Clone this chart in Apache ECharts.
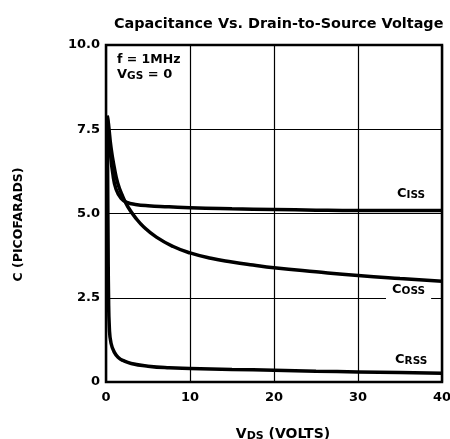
<!DOCTYPE html>
<html>
<head>
<meta charset="utf-8">
<script src="https://cdn.jsdelivr.net/npm/echarts@6/dist/echarts.min.js"></script>
<style>
  html, body { margin: 0; padding: 0; background: #fff; }
  #chart { width: 450px; height: 439px; }
</style>
</head>
<body>
<div id="chart"></div>
<script>
// capacitance curves
const cissVds = [0.15, 0.3, 0.5, 0.8, 1.2, 1.8, 2.5, 3.5, 5, 7.5, 10, 15, 20, 25, 30, 35, 40];
const cissC = [7.9, 7.4, 6.85, 6.2, 5.72, 5.45, 5.33, 5.27, 5.23, 5.2, 5.17, 5.14, 5.12, 5.1, 5.09, 5.09, 5.09];

const cossVds = [0.15, 0.3, 0.6, 1.0, 1.4, 2.0, 2.6, 3.5, 4.5, 6, 8, 10, 12.5, 15, 17.5, 20, 25, 30, 35, 40];
const cossC = [7.9, 7.65, 6.95, 6.35, 5.9, 5.5, 5.2, 4.88, 4.6, 4.3, 4.02, 3.83, 3.67, 3.56, 3.47, 3.39, 3.27, 3.16, 3.07, 2.99];

const crssVds = [0.15, 0.2, 0.25, 0.3, 0.4, 0.6, 1.0, 1.5, 2, 3, 5, 7.5, 10, 15, 20, 25, 30, 35, 40];
const crssC = [7.9, 6.0, 4.0, 2.6, 1.6, 1.15, 0.88, 0.72, 0.64, 0.55, 0.47, 0.42, 0.4, 0.37, 0.35, 0.32, 0.3, 0.28, 0.26];

const xTicks = [0, 10, 20, 30, 40];
const yTickLabels = ['0', '2.5', '5.0', '7.5', '10.0'];

function pairs(xs, ys) {
  return xs.map((x, i) => [x, ys[i]]);
}

const chart = echarts.init(document.getElementById('chart'), null, { renderer: 'canvas' });

const font = 'DejaVu Sans, sans-serif';

const curve = (name, xs, ys) => ({
  name: name,
  type: 'line',
  data: pairs(xs, ys),
  showSymbol: false,
  smooth: 0.5,
  lineStyle: { color: '#000', width: 3.5 },
  silent: true
});

// small-caps style label, e.g. C + ISS
const subRich = {
  b: { fontFamily: font, fontWeight: 'bold', fontSize: 13, fill: '#000' },
  s: { fontFamily: font, fontWeight: 'bold', fontSize: 10.5, fill: '#000', padding: [3, 0, 0, 0] }
};

const option = {
  backgroundColor: '#fff',
  animation: false,
  title: {
    text: 'Capacitance Vs. Drain-to-Source Voltage',
    left: 109,
    top: 12,
    textStyle: { fontFamily: font, fontWeight: 'bold', fontSize: 14.4, color: '#000' }
  },
  grid: {
    left: 106,
    right: 8,
    top: 45,
    bottom: 57,
    outerBoundsMode: 'none',
    show: true,
    borderColor: '#000',
    borderWidth: 2.5,
    backgroundColor: 'transparent'
  },
  xAxis: {
    type: 'value',
    min: 0,
    max: 40,
    interval: 10,
    name: '{b|V}{s|DS}{b| (VOLTS)}',
    nameLocation: 'middle',
    nameGap: 45,
    nameTextStyle: {
      padding: [0, 0, 0, 18],
      rich: {
        b: { fontFamily: font, fontWeight: 'bold', fontSize: 14, color: '#000' },
        s: { fontFamily: font, fontWeight: 'bold', fontSize: 11, color: '#000', padding: [4, 0, 0, 0] }
      }
    },
    axisLine: { show: false },
    axisTick: { show: false },
    splitLine: { show: true, lineStyle: { color: '#000', width: 1.2 } },
    axisLabel: {
      margin: 9,
      fontFamily: font,
      fontWeight: 'bold',
      fontSize: 13,
      color: '#000',
      formatter: v => (xTicks.includes(v) ? String(v) : '')
    }
  },
  yAxis: {
    type: 'value',
    min: 0,
    max: 10,
    interval: 2.5,
    name: 'C (PICOFARADS)',
    nameLocation: 'middle',
    nameRotate: 90,
    nameGap: 81,
    nameTextStyle: {
      fontFamily: font, fontWeight: 'bold', fontSize: 12.5, color: '#000',
      padding: [0, 22, 0, 0]
    },
    axisLine: { show: false },
    axisTick: { show: false },
    splitLine: { show: true, lineStyle: { color: '#000', width: 1.2 } },
    axisLabel: {
      margin: 6,
      fontFamily: font,
      fontWeight: 'bold',
      fontSize: 13,
      color: '#000',
      formatter: v => yTickLabels[Math.round(v / 2.5)]
    }
  },
  graphic: [
    {
      type: 'text', left: 117, top: 53, z: 100,
      style: { text: 'f = 1MHz', fontFamily: font, fontWeight: 'bold', fontSize: 12.5, fill: '#000' }
    },
    {
      type: 'text', left: 117, top: 68, z: 100,
      style: {
        text: '{b|V}{s|GS}{b| = 0}',
        rich: {
          b: { fontFamily: font, fontWeight: 'bold', fontSize: 13, fill: '#000' },
          s: { fontFamily: font, fontWeight: 'bold', fontSize: 10.5, fill: '#000', padding: [3, 0, 0, 0] }
        }
      }
    },
    {
      type: 'text', left: 397, top: 187, z: 100,
      style: { text: '{b|C}{s|ISS}', rich: subRich }
    },
    {
      type: 'text', left: 386, top: 283, z: 100,
      style: {
        text: '{b|C}{s|OSS}',
        backgroundColor: '#fff',
        padding: [0, 6, 2, 6],
        rich: subRich
      }
    },
    {
      type: 'text', left: 395, top: 353, z: 100,
      style: { text: '{b|C}{s|RSS}', rich: subRich }
    }
  ],
  series: [
    curve('CISS', cissVds, cissC),
    curve('COSS', cossVds, cossC),
    curve('CRSS', crssVds, crssC)
  ]
};

chart.setOption(option);
</script>
</body>
</html>
